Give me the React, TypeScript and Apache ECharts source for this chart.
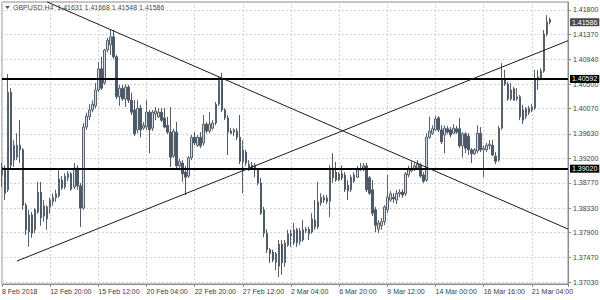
import React, { useEffect, useRef } from 'react';
import * as echarts from 'echarts';

// GBPUSD H4 candles (bar 0 = 8 Feb 2018)
const opens = [
  1.3891, 1.3903, 1.3865, 1.4036, 1.3917, 1.3922, 1.3943, 1.3935, 1.3838, 1.3791,
  1.3821, 1.3795, 1.3826, 1.3861, 1.3819, 1.3814, 1.3835, 1.3844, 1.3851, 1.3854,
  1.3882, 1.3870, 1.3886, 1.3893, 1.3870, 1.3903, 1.3872, 1.3833, 1.3975, 1.3993,
  1.4005, 1.4012, 1.4040, 1.4077, 1.4052, 1.4110, 1.4119, 1.4133, 1.4098, 1.4028,
  1.4043, 1.4024, 1.4045, 1.4022, 1.4005, 1.3970, 1.4008, 1.3973, 1.3975, 1.4001,
  1.3973, 1.3998, 1.3993, 1.4001, 1.3991, 1.3978, 1.3966, 1.3924, 1.3966, 1.3907,
  1.3912, 1.3896, 1.3889, 1.3921, 1.3957, 1.3943, 1.3957, 1.3947, 1.3980, 1.3968,
  1.3973, 1.3982, 1.4015, 1.4057, 1.4005, 1.3991, 1.3968, 1.3966, 1.3968, 1.3957,
  1.3914, 1.3931, 1.3903, 1.3908, 1.3907, 1.3900, 1.3877, 1.3830, 1.3789, 1.3760,
  1.3756, 1.3738, 1.3731, 1.3770, 1.3737, 1.3768, 1.3788, 1.3772, 1.3795, 1.3774,
  1.3777, 1.3793, 1.3796, 1.3791, 1.3812, 1.3800, 1.3842, 1.3851, 1.3844, 1.3845,
  1.3903, 1.3896, 1.3882, 1.3893, 1.3891, 1.3873, 1.3865, 1.3880, 1.3887, 1.3900,
  1.3903, 1.3907, 1.3886, 1.3865, 1.3830, 1.3796, 1.3802, 1.3809, 1.3830, 1.3847,
  1.3852, 1.3847, 1.3858, 1.3861, 1.3858, 1.3891, 1.3898, 1.3901, 1.3903, 1.3908,
  1.3891, 1.3882, 1.3957, 1.3964, 1.3970, 1.3991, 1.3970, 1.3961, 1.3972, 1.3970,
  1.3964, 1.3972, 1.3972, 1.3942, 1.3963, 1.3959, 1.3935, 1.3928, 1.3933, 1.3964,
  1.3935, 1.3935, 1.3942, 1.3943, 1.3924, 1.3917, 1.3973, 1.4059, 1.4050, 1.4024,
  1.4042, 1.4024, 1.4028, 1.4005, 1.3993, 1.4000, 1.4005, 1.4008, 1.4057, 1.4061,
  1.4073, 1.4138, 1.41631,
];
const closes = [
  1.3905, 1.3859, 1.4036, 1.3908, 1.3943, 1.3943, 1.3935, 1.3838, 1.3795, 1.3821,
  1.3789, 1.3830, 1.3861, 1.3816, 1.3837, 1.3835, 1.3847, 1.3852, 1.3858, 1.3884,
  1.3868, 1.3889, 1.3893, 1.3866, 1.3903, 1.3872, 1.3833, 1.3975, 1.3994, 1.4005,
  1.4015, 1.4040, 1.4077, 1.4043, 1.4110, 1.4127, 1.4133, 1.4098, 1.4028, 1.4043,
  1.4024, 1.4045, 1.4022, 1.4001, 1.3963, 1.4008, 1.3970, 1.3978, 1.4001, 1.3970,
  1.4001, 1.4003, 1.4001, 1.3987, 1.3975, 1.3966, 1.3922, 1.3968, 1.3907, 1.3915,
  1.3893, 1.3887, 1.3921, 1.3957, 1.3947, 1.3957, 1.3942, 1.3980, 1.3968, 1.3980,
  1.3982, 1.4015, 1.4057, 1.4005, 1.3991, 1.3966, 1.3964, 1.3970, 1.3957, 1.3915,
  1.3935, 1.3912, 1.3910, 1.3903, 1.3900, 1.3877, 1.3824, 1.3789, 1.3760, 1.3753,
  1.3742, 1.3753, 1.3770, 1.3737, 1.3772, 1.3788, 1.3784, 1.3795, 1.3772, 1.3793,
  1.3795, 1.3796, 1.3788, 1.3814, 1.3800, 1.3844, 1.3852, 1.3847, 1.3851, 1.3903,
  1.3886, 1.3882, 1.3893, 1.3886, 1.3865, 1.3863, 1.3887, 1.3891, 1.3900, 1.3903,
  1.3907, 1.3865, 1.3859, 1.3824, 1.3803, 1.3807, 1.3809, 1.3835, 1.3852, 1.3858,
  1.3849, 1.3859, 1.3861, 1.3856, 1.3893, 1.3901, 1.3903, 1.3907, 1.3910, 1.3889,
  1.3880, 1.3957, 1.3968, 1.3972, 1.3989, 1.3970, 1.3949, 1.3973, 1.3966, 1.3961,
  1.3973, 1.3966, 1.3942, 1.3963, 1.3938, 1.3935, 1.3928, 1.3935, 1.3964, 1.3935,
  1.3938, 1.3943, 1.3945, 1.3926, 1.3915, 1.3973, 1.4059, 1.4050, 1.4024, 1.4040,
  1.4022, 1.4028, 1.3993, 1.3987, 1.4007, 1.4008, 1.4010, 1.4059, 1.4063, 1.4073,
  1.4138, 1.4159, 1.41586,
];
const highs = [
  1.3912, 1.3908, 1.4068, 1.4043, 1.3952, 1.3964, 1.3987, 1.3938, 1.3842, 1.3830,
  1.3826, 1.3833, 1.3879, 1.3879, 1.3847, 1.3838, 1.3851, 1.3859, 1.3865, 1.3903,
  1.3889, 1.3894, 1.3898, 1.3896, 1.3912, 1.3908, 1.3877, 1.3982, 1.4000, 1.4015,
  1.4022, 1.4052, 1.4089, 1.4098, 1.4112, 1.4131, 1.4145, 1.4145, 1.4101, 1.4049,
  1.4049, 1.4050, 1.4049, 1.4035, 1.4022, 1.4022, 1.4014, 1.3984, 1.4022, 1.4005,
  1.4005, 1.4010, 1.4008, 1.4008, 1.4008, 1.3993, 1.4010, 1.3972, 1.3984, 1.3919,
  1.3917, 1.3907, 1.3924, 1.3961, 1.3966, 1.3961, 1.3966, 1.3996, 1.3984, 1.4001,
  1.3987, 1.4019, 1.4064, 1.4070, 1.4008, 1.3996, 1.3973, 1.3973, 1.3973, 1.3996,
  1.3952, 1.3935, 1.3917, 1.3914, 1.3912, 1.3903, 1.3886, 1.3835, 1.3796, 1.3763,
  1.3760, 1.3756, 1.3777, 1.3777, 1.3777, 1.3795, 1.3795, 1.3807, 1.3798, 1.3798,
  1.3812, 1.3800, 1.3800, 1.3824, 1.3847, 1.3879, 1.3859, 1.3856, 1.3856, 1.3908,
  1.3929, 1.3914, 1.3896, 1.3908, 1.3896, 1.3882, 1.3891, 1.3896, 1.3907, 1.3912,
  1.3912, 1.3912, 1.3889, 1.3882, 1.3835, 1.3812, 1.3816, 1.3838, 1.3891, 1.3863,
  1.3859, 1.3865, 1.3866, 1.3866, 1.3896, 1.3907, 1.3914, 1.3912, 1.3917, 1.3912,
  1.3896, 1.3964, 1.3993, 1.3978, 1.3994, 1.3994, 1.3978, 1.3978, 1.3977, 1.3975,
  1.3980, 1.3977, 1.3991, 1.3966, 1.3966, 1.3964, 1.3938, 1.3938, 1.3978, 1.3975,
  1.3943, 1.3947, 1.3952, 1.3952, 1.3931, 1.3977, 1.4087, 1.4075, 1.4054, 1.4052,
  1.4045, 1.4043, 1.4031, 1.4014, 1.4010, 1.4012, 1.4015, 1.4075, 1.4075, 1.4078,
  1.4145, 1.4171, 1.41668,
];
const lows = [
  1.3870, 1.3847, 1.3861, 1.3903, 1.3905, 1.3917, 1.3912, 1.3830, 1.3786, 1.3765,
  1.3781, 1.3789, 1.3823, 1.3802, 1.3809, 1.3795, 1.3823, 1.3837, 1.3844, 1.3851,
  1.3865, 1.3866, 1.3880, 1.3863, 1.3866, 1.3865, 1.3800, 1.3830, 1.3970, 1.3987,
  1.4001, 1.4008, 1.4036, 1.4040, 1.4049, 1.4106, 1.4101, 1.4094, 1.4024, 1.4012,
  1.4021, 1.4010, 1.4017, 1.3996, 1.3959, 1.3964, 1.3957, 1.3970, 1.3970, 1.3929,
  1.3968, 1.3987, 1.3991, 1.3984, 1.3973, 1.3963, 1.3905, 1.3921, 1.3903, 1.3903,
  1.3879, 1.3856, 1.3886, 1.3917, 1.3943, 1.3940, 1.3938, 1.3942, 1.3964, 1.3964,
  1.3970, 1.3978, 1.4012, 1.4001, 1.3987, 1.3926, 1.3963, 1.3959, 1.3952, 1.3910,
  1.3859, 1.3907, 1.3898, 1.3900, 1.3887, 1.3873, 1.3821, 1.3782, 1.3754, 1.3737,
  1.3738, 1.3724, 1.3712, 1.3716, 1.3730, 1.3765, 1.3765, 1.3768, 1.3765, 1.3768,
  1.3774, 1.3789, 1.3777, 1.3788, 1.3795, 1.3796, 1.3837, 1.3842, 1.3840, 1.3817,
  1.3877, 1.3879, 1.3880, 1.3882, 1.3861, 1.3847, 1.3861, 1.3877, 1.3886, 1.3898,
  1.3898, 1.3861, 1.3856, 1.3819, 1.3791, 1.3789, 1.3795, 1.3803, 1.3824, 1.3844,
  1.3842, 1.3840, 1.3852, 1.3851, 1.3854, 1.3887, 1.3896, 1.3898, 1.3900, 1.3886,
  1.3877, 1.3879, 1.3954, 1.3961, 1.3968, 1.3966, 1.3945, 1.3929, 1.3963, 1.3957,
  1.3963, 1.3963, 1.3938, 1.3922, 1.3929, 1.3926, 1.3912, 1.3926, 1.3929, 1.3931,
  1.3887, 1.3931, 1.3936, 1.3924, 1.3910, 1.3914, 1.3970, 1.4047, 1.4021, 1.4021,
  1.4021, 1.4021, 1.3987, 1.3980, 1.3989, 1.3996, 1.4001, 1.4005, 1.4040, 1.4057,
  1.4070, 1.4134, 1.41548,
];

const xTickLabels = [
  '8 Feb 2018', '12 Feb 20:00', '15 Feb 12:00', '20 Feb 04:00', '22 Feb 20:00', '27 Feb 12:00',
  '2 Mar 04:00', '6 Mar 20:00', '9 Mar 12:00', '14 Mar 00:00', '16 Mar 16:00', '21 Mar 04:00',
];
const yTickValues = [
  1.3703, 1.3747, 1.379, 1.3833, 1.3877, 1.392, 1.3963, 1.4007, 1.405, 1.4094, 1.4137, 1.418,
];
const levelLines = [1.40592, 1.3902];
const lastPrice = 1.41586;
const titleText = 'GBPUSD,H4  1.41631 1.41668 1.41548 1.41586';
// trend lines as [barIndex, price] end points
const downTrend: [number, number][] = [[15, 1.4194], [188, 1.37963]];
const upTrend: [number, number][] = [[5, 1.37403], [188, 1.41262]];

const BARS_PER_LABEL = 16;
const SLOTS = 189;
const FONT = '"Liberation Sans", Arial, sans-serif';

export default function App() {
  const ref = useRef<HTMLDivElement>(null);

  useEffect(() => {
    if (!ref.current) return;
    const chart = echarts.init(ref.current, undefined, { renderer: 'svg' });
    const categories = Array.from({ length: SLOTS }, (_, i) => String(i));
    const candles = opens.map((o, i) => [o, closes[i], lows[i], highs[i]]);

    const labelBox = (bg: string) => ({
      show: true,
      position: 'end',
      distance: 2,
      color: '#ffffff',
      backgroundColor: bg,
      padding: [1, 2, 0, 2],
      fontSize: 7,
      fontFamily: FONT,
      formatter: (p: any) => Number(p.value).toFixed(5),
    });

    const trend = (pts: [number, number][]) => [
      { coord: [String(pts[0][0]), pts[0][1]] },
      { coord: [String(pts[1][0]), pts[1][1]] },
    ];

    const option: any = {
      animation: false,
      backgroundColor: '#ffffff',
      textStyle: { fontFamily: FONT },
      grid: {
        left: 2,
        top: 2,
        width: 566,
        height: 282,
        show: true,
        borderColor: '#8c8c8c',
        borderWidth: 1,
        containLabel: false,
        outerBoundsMode: 'none',
      },
      xAxis: {
        type: 'category',
        data: categories,
        boundaryGap: false,
        axisLine: { show: true, lineStyle: { color: '#8c8c8c', width: 1 } },
        axisTick: { show: true, interval: BARS_PER_LABEL - 1, length: 3, lineStyle: { color: '#8c8c8c' } },
        axisLabel: {
          interval: BARS_PER_LABEL - 1,
          formatter: (_v: string, idx: number) => xTickLabels[idx / BARS_PER_LABEL] ?? '',
          align: 'left',
          margin: 4,
          fontSize: 7,
          color: '#3c3c3c',
          fontFamily: FONT,
          showMinLabel: true,
          showMaxLabel: true,
          hideOverlap: false,
        },
        splitLine: {
          show: true,
          interval: BARS_PER_LABEL - 1,
          lineStyle: { color: '#d4d4d4', type: [2, 2], width: 1 },
        },
      },
      yAxis: {
        type: 'value',
        position: 'right',
        min: 1.37,
        max: 1.4194,
        axisLine: { show: true, onZero: false, lineStyle: { color: '#8c8c8c' } },
        axisTick: { show: true, length: 3, customValues: yTickValues, lineStyle: { color: '#8c8c8c' } },
        axisLabel: {
          customValues: yTickValues,
          formatter: (v: number) => v.toFixed(5),
          margin: 5,
          fontSize: 7,
          color: '#3c3c3c',
          fontFamily: FONT,
        },
        splitLine: { show: true, lineStyle: { color: '#d4d4d4', type: [2, 2], width: 1 } },
      },
      graphic: [
        {
          type: 'polygon',
          shape: { points: [[5, 6], [10, 6], [7.5, 9]] },
          style: { fill: '#555555' },
        },
        {
          type: 'text',
          x: 13,
          y: 7.5,
          style: {
            text: titleText,
            fontSize: 7,
            fontFamily: FONT,
            fill: '#4a4a4a',
            verticalAlign: 'middle',
          },
        },
      ],
      series: [
        {
          type: 'candlestick',
          data: candles,
          barWidth: 2,
          itemStyle: {
            color: '#d8dbde',
            color0: '#4e5a68',
            borderColor: '#56626f',
            borderColor0: '#4e5a68',
            borderWidth: 1,
          },
          markLine: {
            silent: true,
            symbol: ['none', 'none'],
            animation: false,
            precision: 5,
            data: [
              ...levelLines.map((v) => ({
                yAxis: v,
                lineStyle: { color: '#000000', width: 2, type: 'solid' },
                label: labelBox('#000000'),
              })),
              {
                yAxis: lastPrice,
                lineStyle: { color: 'rgba(0,0,0,0)', width: 1, type: 'solid' },
                label: labelBox('#4a4a4a'),
              },
              [
                { ...trend(downTrend)[0], lineStyle: { color: '#1a1a1a', width: 1, type: 'solid' }, label: { show: false } },
                trend(downTrend)[1],
              ],
              [
                { ...trend(upTrend)[0], lineStyle: { color: '#1a1a1a', width: 1, type: 'solid' }, label: { show: false } },
                trend(upTrend)[1],
              ],
            ],
          },
        },
      ],
    };

    chart.setOption(option);
    return () => chart.dispose();
  }, []);

  return (
    <div
      ref={ref}
      style={{ position: 'fixed', left: 0, top: 0, width: 600, height: 300, background: '#ffffff' }}
    />
  );
}
